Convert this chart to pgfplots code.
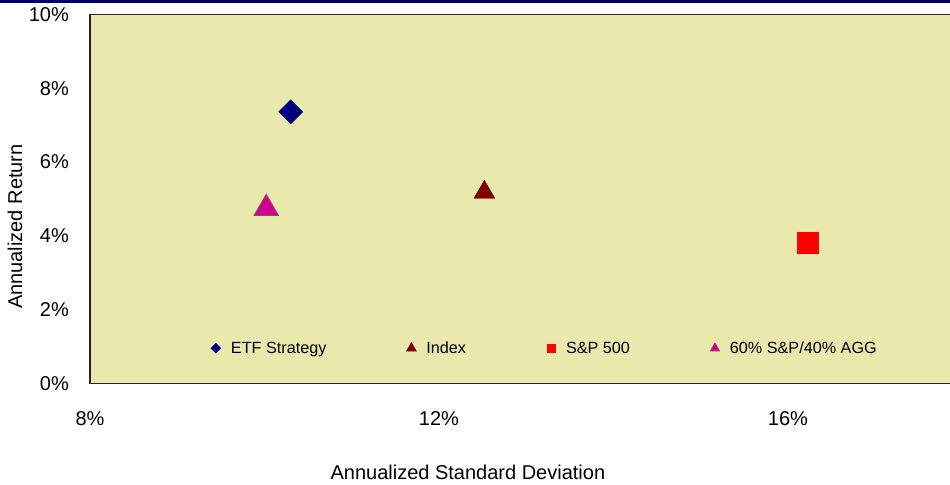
\documentclass[border=0pt]{standalone}
\usepackage{fontspec}
\setmainfont{Liberation Sans}
\usepackage{pgfplots}
\pgfplotsset{compat=1.18}

\definecolor{plotbg}{RGB}{233,232,173}
\definecolor{etf}{RGB}{0,0,128}
\definecolor{idx}{RGB}{128,0,0}
\definecolor{spx}{RGB}{255,0,0}
\definecolor{mix}{RGB}{204,0,153}
\definecolor{mixedge}{RGB}{170,60,80}
\definecolor{topbar}{RGB}{0,0,102}

\begin{document}
\begin{tikzpicture}
\begin{axis}[
  at={(0,0)}, anchor=south west,
  scale only axis,
  width=872.5bp, height=368.8bp,
  xmin=8, xmax=18, ymin=0, ymax=10,
  axis background/.style={fill=plotbg},
  axis line style={line width=1.3bp, black!85},
  major tick length=0pt,
  xtick={8,12,16}, xticklabels={8\%,12\%,16\%},
  ytick={0,2,...,10}, yticklabels={0\%,2\%,4\%,6\%,8\%,10\%},
  tick label style={font=\fontsize{20bp}{22bp}\selectfont},
  xticklabel style={anchor=center, yshift=-35.5bp},
  yticklabel style={anchor=east, inner sep=0pt, xshift=-21bp},
  xlabel={Annualized Standard Deviation},
  ylabel={Annualized Return},
  label style={font=\fontsize{20bp}{22bp}\selectfont},
  xlabel style={at={(axis description cs:0.4331,-0.242)}, anchor=center},
  ylabel style={at={(axis description cs:-0.086,0.425)}, anchor=center},
  legend columns=4,
  legend style={
    at={(axis description cs:0.1375,0.095)}, anchor=west,
    draw=none, fill=none, inner sep=0pt, outer sep=0pt,
    font=\fontsize{16.2bp}{18bp}\selectfont,
    nodes={inner sep=1bp},
    /tikz/every even column/.append style={column sep=78bp}
  },
  legend image code/.code={
    \path[draw=none, fill=none] (-6bp,-4bp) rectangle (14bp,4bp);
    \draw[#1] plot coordinates {(0bp,0bp)};
  },
]

% ETF Strategy
\addplot[forget plot, only marks, mark=square*, mark size=8.5bp,
  mark options={rotate=45, fill=etf, draw=etf}] coordinates {(10.30,7.36)};
% Index
\addplot[forget plot, only marks, mark=triangle*, mark size=12bp,
  mark options={fill=idx, draw=idx}] coordinates {(12.52,5.18)};
% S&P 500
\addplot[forget plot, only marks, mark=square*, mark size=10.6bp,
  mark options={fill=spx, draw=spx}] coordinates {(16.23,3.81)};
% 60/40
\addplot[forget plot, only marks, mark=triangle*, mark size=14bp,
  mark options={fill=mix, draw=mixedge, line width=1bp}] coordinates {(10.02,4.74)};

\addlegendimage{only marks, mark=square*, mark size=3.5bp, mark options={rotate=45, fill=etf, draw=etf}}
\addlegendentry{ETF Strategy}
\addlegendimage{only marks, mark=triangle*, mark size=5.8bp, mark options={fill=idx, draw=idx}}
\addlegendentry{Index}
\addlegendimage{only marks, mark=square*, mark size=4.3bp, mark options={fill=spx, draw=spx}}
\addlegendentry{S\&P 500}
\addlegendimage{only marks, mark=triangle*, mark size=5.4bp, mark options={fill=mix, draw=mixedge, line width=0.6bp}}
\addlegendentry{60\% S\&P/40\% AGG}

\end{axis}
\fill[topbar] (-90bp,380.5bp) rectangle (860bp,383.5bp);
\pgfresetboundingbox
\path[use as bounding box] (-90bp,-101.7bp) rectangle (860bp,383.3bp);
\end{tikzpicture}
\end{document}
